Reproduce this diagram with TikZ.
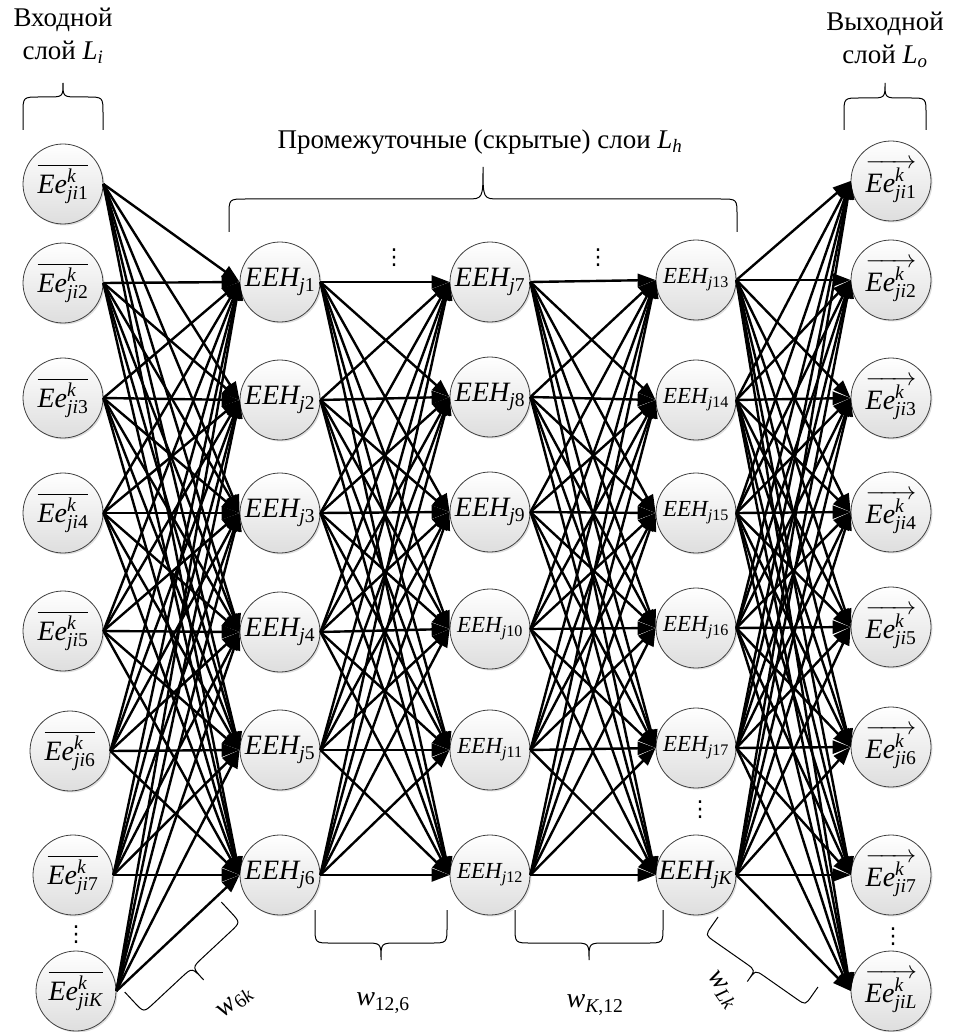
\documentclass[tikz,border=0pt]{standalone}
\usepackage{amsmath}
\usepackage{fontspec}
\setmainfont{Liberation Serif}
\newfontfamily\symfont{DejaVu Sans}
\usepackage{tikz}
\usetikzlibrary{arrows.meta, shadows}
\newcommand\Ein[1]{$\overline{\textit{Ee}^{\textit{k}}_{\textit{ji}\textup{#1}}}$}
\newcommand\Eout[1]{$\overrightarrow{\textit{Ee}^{\textit{k}}_{\textit{ji}\textup{#1}}}$}
\newcommand\Hid[1]{$\textit{EEH}_{\textit{j}\textup{#1}}$}

\begin{document}
\begin{tikzpicture}[x=1pt, y=-1pt,
  neuron/.style={circle, draw=black!75, line width=0.8pt, minimum size=80pt, inner sep=0pt, top color=white, bottom color=black!13, drop shadow={shadow xshift=1.5pt, shadow yshift=-1.5pt, opacity=0.25}},
  link/.style={line width=2.4pt, -{Triangle[length=18pt,width=13pt]}},
  heading/.style={font=\fontsize{27}{33}\selectfont, align=center},
  weight/.style={font=\fontsize{28}{30}\selectfont},
  gap/.style={font=\fontsize{22}{22}\symfont},
  pics/curly/.style n args={3}{code={
    \draw[line width=1pt] (-#1,0) -- (-#1,-#2/2) .. controls (-#1,-#2) .. (-#1+#2/2,-#2) -- (-#2/2,-#2) .. controls (0,-#2) .. (0,-#3) .. controls (0,-#2) .. (#2/2,-#2) -- (#1-#2/2,-#2) .. controls (#1,-#2) .. (#1,-#2/2) -- (#1,0);}}]
  \useasboundingbox (0,0) rectangle (952,1032);

  % layers
  \foreach \n/\x/\y/\t in {1/63/184/1, 2/63/283/2, 3/63/398/3, 4/63/513/4, 5/63/631/5, 6/70/751/6, 7/73/875/7, 8/76/991/\textit{K}}
    \node[neuron, font=\fontsize{28}{28}\selectfont] (in\n) at (\x,\y) {\Ein{\t}};
  \foreach \n/\x/\y/\t/\f in {1/280/282/1/28, 2/280/400/2/28, 3/280/513/3/28, 4/280/632/4/28, 5/280/750/5/28, 6/280/875/6/28,
                              7/490/282/7/28, 8/490/397/8/28, 9/490/512/9/28, 10/490/629/10/23, 11/490/750/11/23, 12/490/875/12/23,
                              13/696/280/13/23, 14/696/400/14/23, 15/696/513/15/23, 16/696/628/16/23, 17/696/748/17/23, 18/696/875/\textit{K}/28}
    \node[neuron, font=\fontsize{\f}{\f}\selectfont] (h\n) at (\x,\y) {\Hid{\t}};
  \foreach \n/\y/\t in {1/181/1, 2/280/2, 3/398/3, 4/512/4, 5/627/5, 6/747/6, 7/875/7, 8/991/\textit{L}}
    \node[neuron, font=\fontsize{28}{28}\selectfont] (out\n) at (891,\y) {\Eout{\t}};

  % connections
  \foreach \a in {1,...,8} \foreach \b in {1,...,6} \draw[link] (in\a.east) -- (h\b.west);
  \foreach \a in {1,...,6} \foreach \b in {7,...,12} \draw[link] (h\a.east) -- (h\b.west);
  \foreach \a in {7,...,12} \foreach \b in {13,...,18} \draw[link] (h\a.east) -- (h\b.west);
  \foreach \a in {13,...,18} \foreach \b in {1,...,8} \draw[link] (h\a.east) -- (out\b.west);

  % dots
  \node[gap] (dotin) at (76,935) {⋮};
  \node[gap] (dotA) at (394,258) {⋮};
  \node[gap] (dotB) at (598,258) {⋮};
  \node[gap] (dotC) at (700,810) {⋮};
  \node[gap] (dotout) at (893,937) {⋮};

  % headings and braces
  \node[heading] (inhead) at (63,36) {Входной\\слой $\textit{L}_{\textit{i}}$};
  \node[heading] (outhead) at (885,40) {Выходной\\слой $\textit{L}_{\textit{o}}$};
  \node[heading] (hidhead) at (480,142) {Промежуточные (скрытые) слои $\textit{L}_{\textit{h}}$};
  \pic at (63,130) {curly={40}{33}{47}};
  \pic at (885,130) {curly={41}{32}{47}};
  \pic at (483,232) {curly={254}{33}{65}};
  \pic[rotate=180] at (381,910) {curly={66}{33}{50}};
  \pic[rotate=180] at (589,910) {curly={74}{33}{50}};
  \pic[rotate=-137] at (173,947) {curly={66}{28}{45}};
  \pic[rotate=145] at (768,952) {curly={61}{22}{36}};

  % weights
  \node[weight, rotate=40] (w1) at (235,1003) {$\textit{w}_{\textup{6}\textit{k}}$};
  \node[weight] (w2) at (383,1003) {$\textit{w}_{\textup{12,6}}$};
  \node[weight] (w3) at (595,1005) {$\textit{w}_{\textit{K}\textup{,12}}$};
  \node[weight, rotate=-55] (w4) at (722,990) {$\textit{w}_{\textit{L}\textit{k}}$};
\end{tikzpicture}
\end{document}
